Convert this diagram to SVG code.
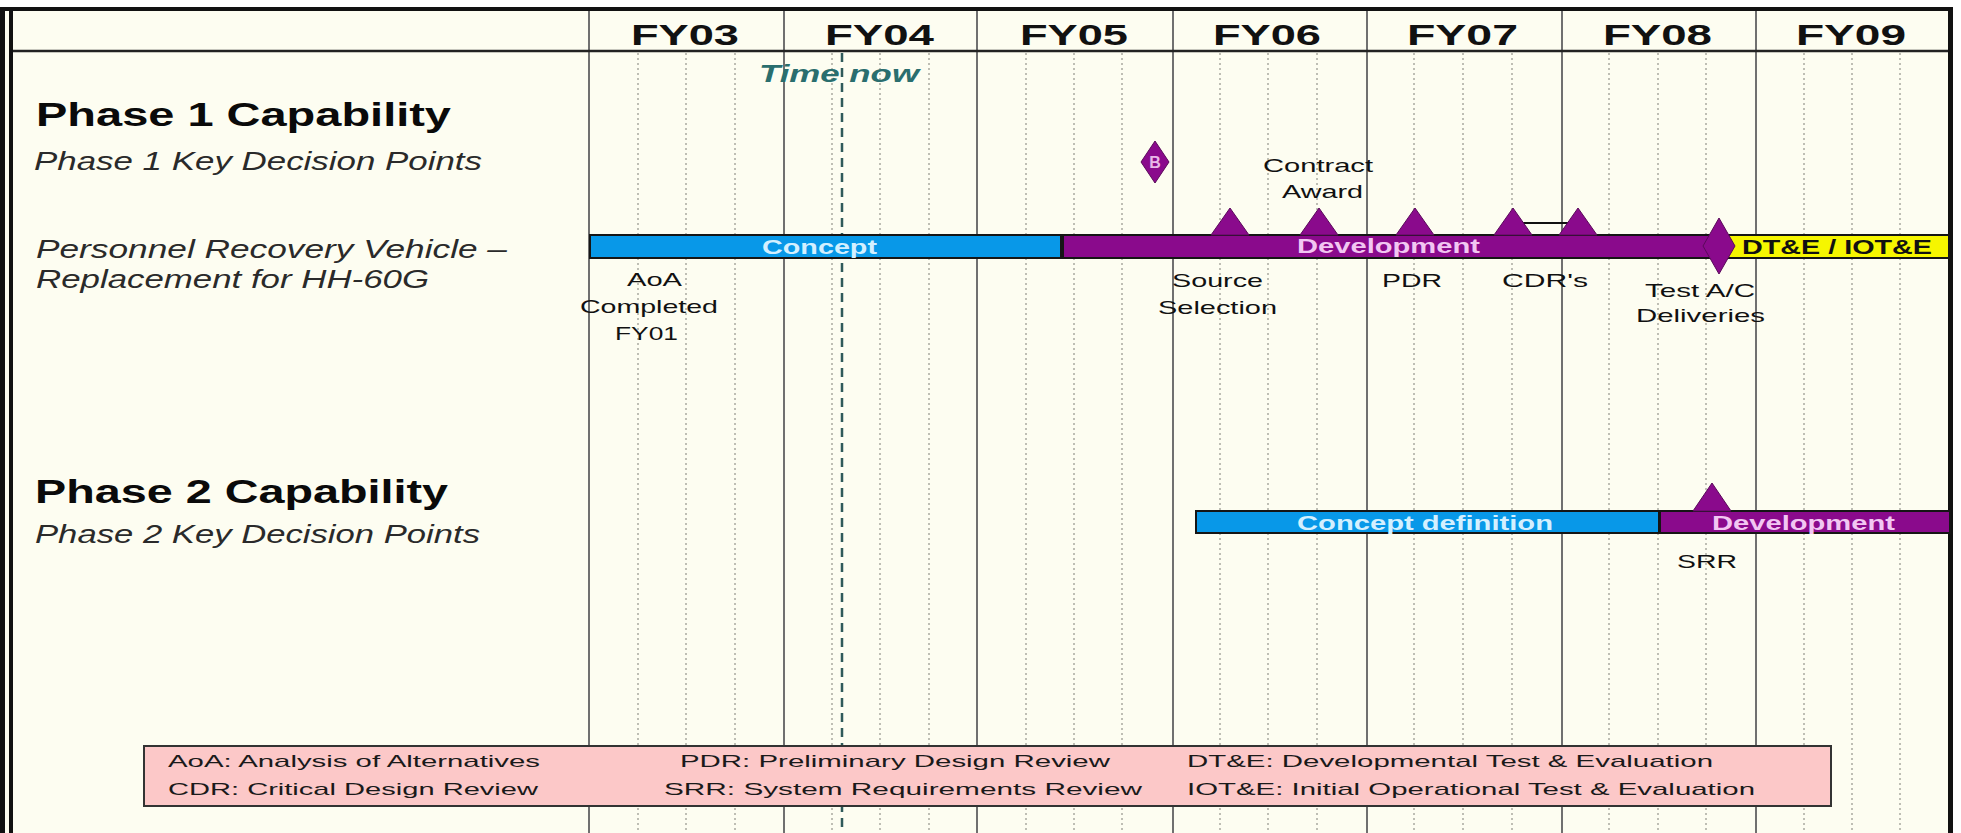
<svg xmlns="http://www.w3.org/2000/svg" width="1961" height="833" viewBox="0 0 1961 833">
<style>
text{font-family:"Liberation Sans",Arial,sans-serif;}
.fy{font-size:30px;font-weight:bold;fill:#111;}
.h1{font-size:33px;font-weight:bold;fill:#0a0a0a;}
.it{font-size:25px;font-style:italic;fill:#2a2a2a;}
.ms{font-size:19px;fill:#111;}
.bar{stroke:#151515;stroke-width:2;}
.blue{fill:#0898e8;}
.purple{fill:#8a0a8c;}
.yellow{fill:#f6f600;}
.bl{font-size:21px;font-weight:bold;}
.ctext{fill:#d4f0ff;}
.dtext{fill:#f2c6f2;}
.tri{fill:#8a0a8c;stroke:#5a0a5a;stroke-width:1;}
.leg{font-size:17px;fill:#1a1a1a;}
.col{stroke:#707070;stroke-width:2;}
.q{stroke:#a9a9a0;stroke-width:1.5;stroke-dasharray:2 3;}
</style>
<rect x="0" y="0" width="1961" height="833" fill="#ffffff"/>
<rect x="0" y="9" width="1951" height="824" fill="#fdfdf1"/>
<g id="grid">
<g class="q">
<line x1="638" y1="53" x2="638" y2="833"/><line x1="686" y1="53" x2="686" y2="833"/><line x1="735" y1="53" x2="735" y2="833"/>
<line x1="832" y1="53" x2="832" y2="833"/><line x1="880" y1="53" x2="880" y2="833"/><line x1="929" y1="53" x2="929" y2="833"/>
<line x1="1026" y1="53" x2="1026" y2="833"/><line x1="1074" y1="53" x2="1074" y2="833"/><line x1="1122" y1="53" x2="1122" y2="833"/>
<line x1="1220" y1="53" x2="1220" y2="833"/><line x1="1268" y1="53" x2="1268" y2="833"/><line x1="1317" y1="53" x2="1317" y2="833"/>
<line x1="1414" y1="53" x2="1414" y2="833"/><line x1="1463" y1="53" x2="1463" y2="833"/><line x1="1512" y1="53" x2="1512" y2="833"/>
<line x1="1609" y1="53" x2="1609" y2="833"/><line x1="1658" y1="53" x2="1658" y2="833"/><line x1="1706" y1="53" x2="1706" y2="833"/>
<line x1="1804" y1="53" x2="1804" y2="833"/><line x1="1852" y1="53" x2="1852" y2="833"/><line x1="1900" y1="53" x2="1900" y2="833"/>
</g>
<g class="col">
<line x1="589" y1="10" x2="589" y2="833"/><line x1="784" y1="10" x2="784" y2="833"/><line x1="977" y1="10" x2="977" y2="833"/>
<line x1="1173" y1="10" x2="1173" y2="833"/><line x1="1367" y1="10" x2="1367" y2="833"/><line x1="1562" y1="10" x2="1562" y2="833"/>
<line x1="1756" y1="10" x2="1756" y2="833"/>
</g>
<line x1="10" y1="51" x2="1950" y2="51" stroke="#222" stroke-width="2.5"/>
<rect x="0" y="7" width="1953" height="4" fill="#111"/>
<rect x="0" y="7" width="5" height="826" fill="#111"/>
<rect x="9" y="7" width="4" height="826" fill="#111"/>
<rect x="1948" y="7" width="5" height="826" fill="#111"/>
</g>
<g id="header">
<text class="fy" x="631" y="45" textLength="108" lengthAdjust="spacingAndGlyphs">FY03</text>
<text class="fy" x="825" y="45" textLength="109" lengthAdjust="spacingAndGlyphs">FY04</text>
<text class="fy" x="1020" y="45" textLength="108" lengthAdjust="spacingAndGlyphs">FY05</text>
<text class="fy" x="1213" y="45" textLength="108" lengthAdjust="spacingAndGlyphs">FY06</text>
<text class="fy" x="1407" y="45" textLength="111" lengthAdjust="spacingAndGlyphs">FY07</text>
<text class="fy" x="1603" y="45" textLength="109" lengthAdjust="spacingAndGlyphs">FY08</text>
<text class="fy" x="1796" y="45" textLength="110" lengthAdjust="spacingAndGlyphs">FY09</text>
</g>
<g id="time-now">
<line x1="842" y1="53" x2="842" y2="833" stroke="#2f5a5a" stroke-width="2.5" stroke-dasharray="9 6"/>
<text x="759" y="82" font-size="23" font-weight="bold" font-style="italic" fill="#2a6e6e" textLength="160" lengthAdjust="spacingAndGlyphs">Time now</text>
</g>
<g id="labels">
<text class="h1" x="36" y="126" textLength="415" lengthAdjust="spacingAndGlyphs">Phase 1 Capability</text>
<text class="it" x="34" y="170" textLength="448" lengthAdjust="spacingAndGlyphs">Phase 1 Key Decision Points</text>
<text class="it" x="36" y="258" textLength="471" lengthAdjust="spacingAndGlyphs">Personnel Recovery Vehicle –</text>
<text class="it" x="36" y="288" textLength="393" lengthAdjust="spacingAndGlyphs">Replacement for HH-60G</text>
<text class="h1" x="35" y="503" textLength="413" lengthAdjust="spacingAndGlyphs">Phase 2 Capability</text>
<text class="it" x="35" y="543" textLength="445" lengthAdjust="spacingAndGlyphs">Phase 2 Key Decision Points</text>
</g>
<g id="connectors">
<line x1="1513" y1="223" x2="1578" y2="223" stroke="#111" stroke-width="2"/>
</g>
<g id="phase1-concept">
<rect class="bar blue" x="590" y="235" width="471" height="23"/>
<text class="bl ctext" x="762" y="254" textLength="115" lengthAdjust="spacingAndGlyphs">Concept</text>
</g>
<g id="phase1-development">
<rect class="bar purple" x="1063" y="235" width="665" height="23"/>
<text class="bl dtext" x="1297" y="253" textLength="183" lengthAdjust="spacingAndGlyphs">Development</text>
</g>
<g id="phase1-dte">
<rect class="bar yellow" x="1728" y="235" width="221" height="23"/>
<text class="bl" x="1742" y="254" fill="#111" textLength="190" lengthAdjust="spacingAndGlyphs">DT&amp;E / IOT&amp;E</text>
</g>
<g id="milestone-b">
<polygon class="tri" points="1155,141 1169,162 1155,183 1141,162"/>
<text x="1155" y="168" font-size="16" font-weight="bold" fill="#e8b8e8" text-anchor="middle">B</text>
</g>
<g id="source-selection">
<polygon class="tri" points="1230,208 1249,235 1211,235"/>
<text class="ms" x="1172" y="287" textLength="91" lengthAdjust="spacingAndGlyphs">Source</text>
<text class="ms" x="1158" y="314" textLength="119" lengthAdjust="spacingAndGlyphs">Selection</text>
</g>
<g id="contract-award">
<polygon class="tri" points="1319,208 1338,235 1300,235"/>
<text class="ms" x="1263" y="172" textLength="110" lengthAdjust="spacingAndGlyphs">Contract</text>
<text class="ms" x="1282" y="198" textLength="81" lengthAdjust="spacingAndGlyphs">Award</text>
</g>
<g id="pdr">
<polygon class="tri" points="1415,208 1434,235 1396,235"/>
<text class="ms" x="1382" y="287" textLength="60" lengthAdjust="spacingAndGlyphs">PDR</text>
</g>
<g id="cdrs">
<polygon class="tri" points="1513,208 1532,235 1494,235"/>
<polygon class="tri" points="1578,208 1597,235 1559,235"/>
<text class="ms" x="1502" y="287" textLength="86" lengthAdjust="spacingAndGlyphs">CDR's</text>
</g>
<g id="test-ac">
<polygon class="tri" points="1719,218 1735,246 1719,274 1703,246"/>
<text class="ms" x="1645" y="297" textLength="110" lengthAdjust="spacingAndGlyphs">Test A/C</text>
<text class="ms" x="1636" y="322" textLength="129" lengthAdjust="spacingAndGlyphs">Deliveries</text>
</g>
<g id="aoa">
<text class="ms" x="627" y="286" textLength="55" lengthAdjust="spacingAndGlyphs">AoA</text>
<text class="ms" x="580" y="313" textLength="138" lengthAdjust="spacingAndGlyphs">Completed</text>
<text class="ms" x="615" y="340" textLength="63" lengthAdjust="spacingAndGlyphs">FY01</text>
</g>
<g id="phase2-concept">
<rect class="bar blue" x="1196" y="511" width="463" height="22"/>
<text class="bl ctext" x="1297" y="530" textLength="256" lengthAdjust="spacingAndGlyphs">Concept definition</text>
</g>
<g id="phase2-development">
<rect class="bar purple" x="1660" y="511" width="290" height="22"/>
<text class="bl dtext" x="1712" y="530" textLength="183" lengthAdjust="spacingAndGlyphs">Development</text>
</g>
<g id="srr">
<polygon class="tri" points="1712,483 1731,511 1693,511"/>
<text class="ms" x="1677" y="568" textLength="60" lengthAdjust="spacingAndGlyphs">SRR</text>
</g>
<g id="legend">
<rect x="144" y="746" width="1687" height="60" fill="#fcc8c8" stroke="#333" stroke-width="2"/>
<text class="leg" x="168" y="767" textLength="372" lengthAdjust="spacingAndGlyphs">AoA: Analysis of Alternatives</text>
<text class="leg" x="168" y="795" textLength="370" lengthAdjust="spacingAndGlyphs">CDR: Critical Design Review</text>
<text class="leg" x="680" y="767" textLength="430" lengthAdjust="spacingAndGlyphs">PDR: Preliminary Design Review</text>
<text class="leg" x="664" y="795" textLength="478" lengthAdjust="spacingAndGlyphs">SRR: System Requirements Review</text>
<text class="leg" x="1187" y="767" textLength="526" lengthAdjust="spacingAndGlyphs">DT&amp;E: Developmental Test &amp; Evaluation</text>
<text class="leg" x="1187" y="795" textLength="568" lengthAdjust="spacingAndGlyphs">IOT&amp;E: Initial Operational Test &amp; Evaluation</text>
</g>
</svg>
